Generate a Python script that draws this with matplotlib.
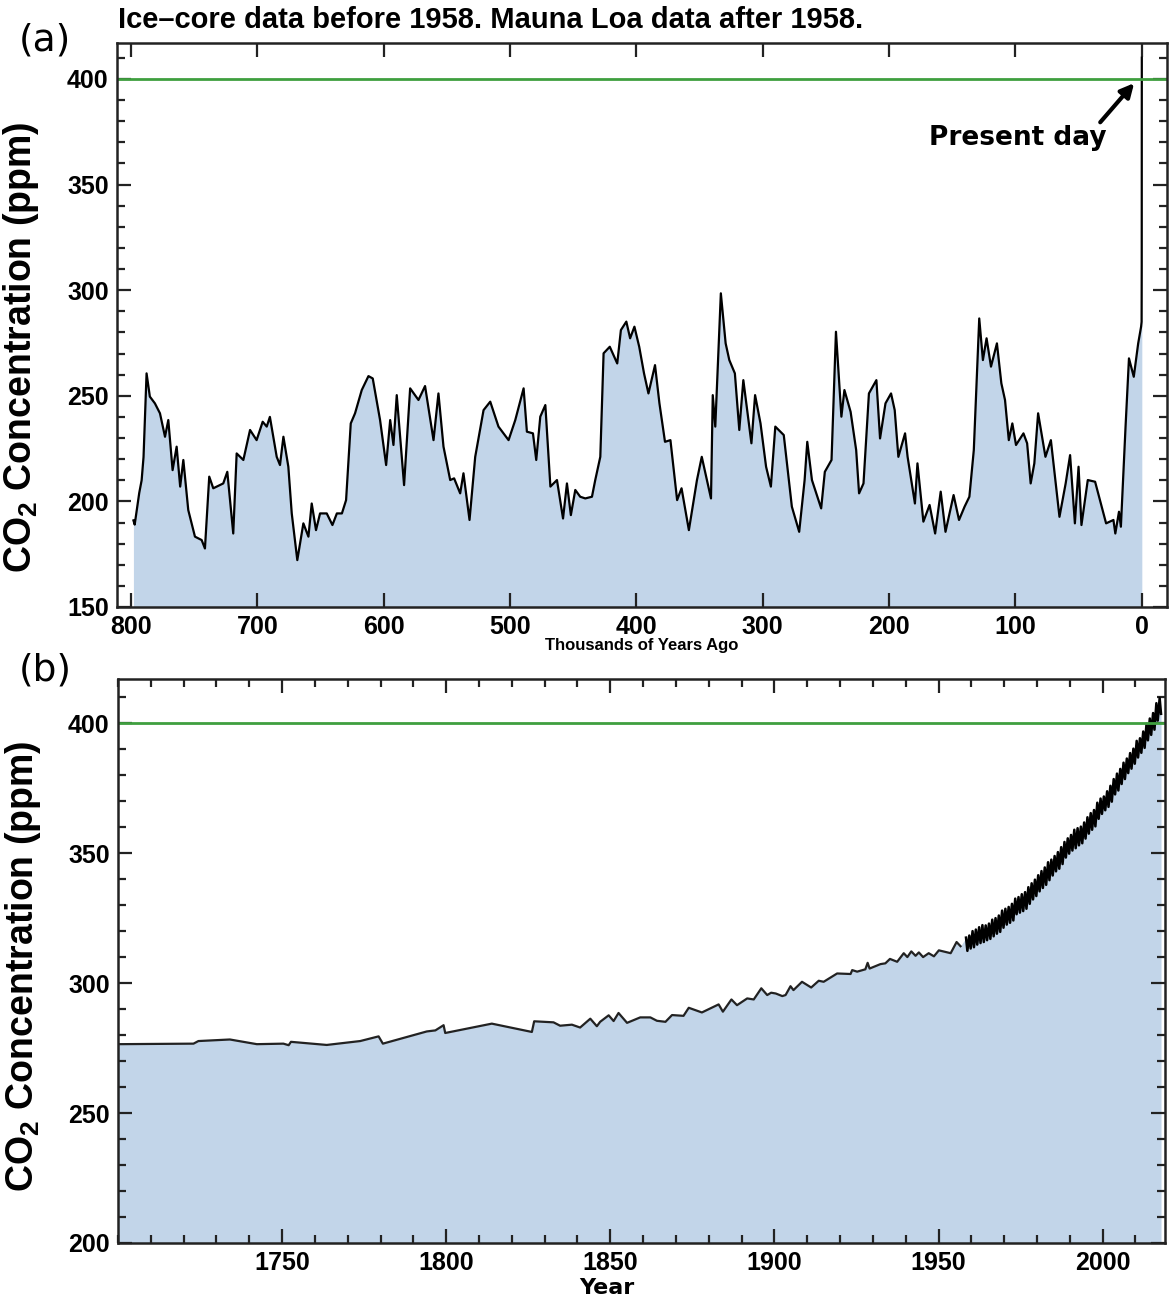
import matplotlib
matplotlib.use('Agg')
import matplotlib.pyplot as plt
from matplotlib.ticker import MultipleLocator
import numpy as np

# (a) ice core, thousands of years ago / ppm
ice_age = [798, 797, 793.4, 791.5, 790, 787.6, 785, 781, 777, 773, 770.4, 767, 763.8, 761, 758.5,
           754.6, 749.3, 744, 741.4, 738, 734.8, 726.9, 723.7, 719, 716.3, 711, 705.7, 700.5, 695.7,
           692.5, 690, 684.6, 682, 679.3, 675.4, 672.7, 668.3, 663.5, 659.5, 656.9, 653.5, 650.3, 645,
           640.5, 637, 633, 629.7, 626, 622.6, 617.3, 612, 608.6, 602.8, 598, 594.8, 592.2, 589.6,
           583.8, 579, 572.4, 567.2, 560.5, 556.6, 552.6, 547.3, 544.2, 539.4, 536.8, 532, 527.5,
           520.9, 515.6, 509.1, 501.1, 495.8, 489.2, 486.6, 481.8, 479.2, 476, 472, 468, 462.8, 458,
           454.9, 451.8, 448.3, 444.4, 440.4, 435.1, 432.5, 428.5, 425.9, 421, 415.1, 412.2, 407.9,
           404.9, 401.5, 397.7, 393.9, 390.4, 385.2, 381.7, 377.3, 373, 367.7, 364.2, 358.4, 352,
           348.2, 340.9, 339.5, 337.5, 333.1, 329.3, 326.4, 322, 318.5, 315.3, 308.9, 306, 301.7,
           297.3, 293.5, 290, 283.3, 276.9, 271.1, 266.8, 264.7, 261, 253.7, 250.8, 245.5, 242,
           237.7, 235.3, 230.4, 226, 223.7, 220.2, 215.9, 210, 207.1, 202.8, 198.4, 195.5, 192.6,
           187.3, 185.3, 179.5, 177.5, 172.8, 167.9, 163.5, 159.1, 155.3, 148.9, 144.6, 140.2,
           136.4, 132.9, 128.6, 125.7, 122.8, 119.3, 114.6, 111.1, 108.2, 105.2, 102.4, 99.5, 93.6,
           90.7, 87.9, 85, 82, 76.2, 71.9, 65.1, 60.2, 56.7, 52.9, 50, 47.7, 42.7, 36.9, 28.2, 22.4,
           20.9, 18, 16.5, 12.8, 10.1, 6.3, 2.8, 0.5, 0.1, 0.0, -0.067]
ice_co2 = [191, 189, 204, 210, 221, 260.6, 249.6, 246.4, 241.7, 230.6, 238.5, 214.8, 225.9, 207, 219.6,
           195.9, 183.3, 181.7, 177.7, 211.7, 206.2, 208.5, 214, 184.8, 222.7, 219.6, 233.8, 229, 237.7,
           235.4, 240, 221.1, 217.2, 230.6, 216.4, 194.3, 172.2, 189.6, 183.3, 199, 186.4, 194.3, 194.3,
           188.8, 194.3, 194.3, 200.6, 236.9, 241.7, 252.7, 259.3, 258.2, 238.5, 217.2, 238.5, 226.7, 250.3,
           207.7, 253.5, 248, 254.6, 229, 251.1, 225.9, 210.1, 210.9, 203.8, 213.3, 191.2, 221.1,
           243.2, 247.2, 235.4, 229, 238.5, 253.5, 233, 232.2, 219.6, 240.1, 245.6, 207, 210.1, 191.9,
           208.5, 193.5, 205.4, 202.2, 201.4, 202.2, 210.1, 221.1, 270.1, 273.2, 265.3, 281.1, 285.1,
           277.2, 282.7, 273.2, 260.6, 251.1, 264.5, 246.4, 228.2, 229, 200.6, 206.2, 186.4, 210.1,
           221.1, 201.4, 250.3, 235.4, 298.5, 274.8, 266.9, 260.6, 233.8, 257.4, 227.5, 250.3, 236.9,
           216.4, 207, 235.4, 231.4, 197.5, 185.6, 210.1, 228.2, 210.1, 196.7, 214, 219.6, 280.3,
           240.1, 252.7, 242.4, 224.3, 203.8, 208.5, 251.1, 257.4, 229.8, 246.4, 251.1, 243.2, 221.1,
           232.2, 221.1, 199, 218, 190.4, 198.3, 184.8, 204.6, 185.6, 203, 191.2, 197.5,
           202.2, 224.3, 286.6, 266.9, 277.2, 263.8, 274.8, 255.9, 248, 229, 236.9, 226.7, 232.2,
           227.5, 208.5, 218, 241.7, 221.1, 229, 192.7, 208.5, 221.9, 189.6, 216.4, 188.8, 210.1, 209.3, 189.6, 191.2,
           184.8, 195.1, 188, 235.4, 267.7, 259, 274.8, 282.7, 285, 311, 410]

# (b) ice core / firn record before Mauna Loa
core_year = [1700.1, 1723, 1724.5, 1734.1, 1742.3, 1750.4, 1752, 1752.7, 1763.6, 1773.8, 1779.4, 1780.7,
             1794.1, 1796.7, 1799.2, 1799.7, 1813.9, 1826.1, 1826.8, 1832.7, 1834.7, 1838.3, 1840.8,
             1843.9, 1845.9, 1846.9, 1849.5, 1851, 1852.5, 1855.1, 1859.1, 1862.2, 1864.2, 1866.8,
             1868.8, 1872.3, 1873.9, 1877.9, 1883, 1884.3, 1886.9, 1888.6, 1891.7, 1893.7, 1896,
             1897.8, 1899, 1900.4, 1902.4, 1903.4, 1904.9, 1905.8, 1908.4, 1911.2, 1913.5, 1915,
             1919.1, 1923.2, 1923.7, 1925.2, 1927.7, 1928.4, 1929, 1932.3, 1933.8, 1935.2, 1937.4,
             1939.4, 1940.5, 1941.7, 1943, 1944, 1945.3, 1947, 1948.6, 1950.1, 1953.7, 1955.5, 1956.7]
core_co2 = [276.5, 276.7, 277.7, 278.3, 276.5, 276.7, 276.1, 277.4, 276.2, 277.7, 279.5, 276.7,
            281.4, 281.8, 283.8, 280.8, 284.4, 281.2, 285.3, 284.9, 283.6, 284, 282.9,
            286.3, 283.4, 285.1, 287.6, 285.4, 288.5, 284.7, 286.8, 286.8, 285.5, 285.1,
            287.7, 287.4, 290.5, 288.7, 291.8, 289, 293.7, 291.5, 294.1, 293.7, 298,
            295.4, 296.3, 296, 295, 295.4, 298.8, 297.3, 300.5, 298.3, 300.9, 300.5,
            303.7, 303.5, 305, 304.4, 305.3, 307.8, 305.6, 307.3, 307.6, 309.3, 308.2,
            311.5, 310, 312.2, 310.5, 311.8, 310, 311.5, 310.3, 312.6, 311.5, 315.8, 314.2]

# Mauna Loa, 1958-2017: seasonal high (May) and low (Oct)
mlo_year = list(range(1958, 2018))
mlo_high = [317.5, 318.3, 320.0, 320.6, 321.5, 322.3, 322.2, 322.9, 324.4, 325.0, 326.0, 327.9, 328.6,
            329.3, 330.5, 332.5, 333.1, 334.2, 335.0, 336.9, 338.4, 339.8, 341.5, 343.1, 344.5,
            346.5, 347.5, 348.9, 350.4, 352.3, 354.3, 355.7, 357.0, 359.0, 359.6, 360.2, 361.8,
            363.8, 365.4, 366.6, 369.4, 371.0, 371.8, 373.8, 375.9, 378.5, 380.6, 382.4, 384.8,
            386.4, 388.5, 390.2, 393.2, 394.2, 396.8, 399.8, 401.8, 403.9, 407.7, 409.7]
mlo_low = [312.4, 313.3, 313.8, 314.8, 315.4, 315.8, 316.5, 317.0, 318.0, 319.0, 319.7, 321.3, 322.5,
           323.2, 324.1, 326.5, 327.1, 327.7, 328.6, 330.5, 332.2, 333.5, 335.3, 336.6, 337.8,
           339.6, 341.4, 343.0, 344.0, 345.8, 348.3, 349.8, 351.0, 351.9, 353.0, 353.8, 355.6,
           357.5, 359.0, 360.3, 363.2, 365.1, 366.5, 367.8, 369.8, 372.6, 374.1, 376.6, 378.5,
           380.8, 382.5, 384.4, 386.8, 388.6, 390.5, 393.4, 395.5, 397.5, 401.0, 403.6]

FILL = '#c2d5e9'
GREEN = '#3f9f3f'
main_font = 'Liberation Sans'
alt_font = 'DejaVu Sans'


def style_axes(ax, label_y):
    for s in ax.spines.values():
        s.set_linewidth(1.8)
        s.set_color('#222222')
    ax.tick_params(which='both', direction='in', top=True, right=True, width=1.6, color='#222222')
    ax.tick_params(which='major', length=10, pad=6)
    ax.tick_params(which='minor', length=6)
    for lab in ax.get_xticklabels() + ax.get_yticklabels():
        lab.set_fontfamily(main_font)
        lab.set_fontweight('bold')
        lab.set_fontsize(18)
    ax.yaxis.set_minor_locator(MultipleLocator(10))
    ax.set_ylabel('CO$_2$ Concentration (ppm)', fontsize=27, fontweight='bold', family=main_font)
    ax.yaxis.set_label_coords(-0.072, label_y)


plt.rcParams['mathtext.fontset'] = 'custom'
plt.rcParams['mathtext.rm'] = 'Liberation Sans:bold'
plt.rcParams['mathtext.it'] = 'Liberation Sans:bold'

fig = plt.figure(figsize=(11.76, 13.01), dpi=100)

# panel a
ax1 = fig.add_axes([117 / 1176, 1 - 607 / 1301, 1050 / 1176, 564 / 1301])
ax1.fill_between(ice_age, ice_co2, 150, color=FILL, lw=0)
ax1.plot(ice_age, ice_co2, color='black', lw=1.6)
ax1.axhline(400, color=GREEN, lw=2)
ax1.set_xlim(811, -20)
ax1.set_ylim(150, 417)
ax1.set_xticks([800, 700, 600, 500, 400, 300, 200, 100, 0])
ax1.set_yticks([150, 200, 250, 300, 350, 400])
style_axes(ax1, 0.46)
ax1.set_xlabel('Thousands of Years Ago', fontsize=12, fontweight='bold', family=main_font)
ax1.xaxis.set_label_coords(0.5, -0.055)
ax1.annotate('Present day', xy=(6, 398), xytext=(98, 372), fontsize=19, fontweight='bold',
             family=alt_font, ha='center', va='center',
             arrowprops=dict(arrowstyle='-|>', color='black', lw=3, mutation_scale=20,
                             shrinkA=0, shrinkB=0, relpos=(0.95, 1.0)))

# panel b
ml_x = [y + f for y in mlo_year for f in (0.37, 0.79)]
ml_y = [v for pair in zip(mlo_high, mlo_low) for v in pair]
ax2 = fig.add_axes([118 / 1176, 1 - 1243 / 1301, 1047 / 1176, 564 / 1301])
ax2.fill_between(core_year + ml_x, core_co2 + ml_y, 200, color=FILL, lw=0)
ax2.plot(core_year, core_co2, color='#222222', lw=1.6)
ax2.plot(ml_x, ml_y, color='black', lw=1.8)
ax2.axhline(400, color=GREEN, lw=2)
ax2.set_xlim(1700, 2019)
ax2.set_ylim(200, 417)
ax2.set_xticks([1750, 1800, 1850, 1900, 1950, 2000])
ax2.set_yticks([200, 250, 300, 350, 400])
ax2.xaxis.set_minor_locator(MultipleLocator(10))
style_axes(ax2, 0.49)
ax2.set_xlabel('Year', fontsize=16, fontweight='bold', family=alt_font)
ax2.xaxis.set_label_coords(0.467, -0.062)

fig.text(118 / 1176, 1 - 20 / 1301, 'Ice\u2013core data before 1958. Mauna Loa data after 1958.',
         fontsize=21, fontweight='bold', family=main_font, ha='left', va='center')
fig.text(45 / 1176, 1 - 40 / 1301, '(a)', fontsize=27, family=alt_font, ha='center', va='center')
fig.text(45 / 1176, 1 - 670 / 1301, '(b)', fontsize=27, family=alt_font, ha='center', va='center')

fig.savefig('out.png', dpi=100)
